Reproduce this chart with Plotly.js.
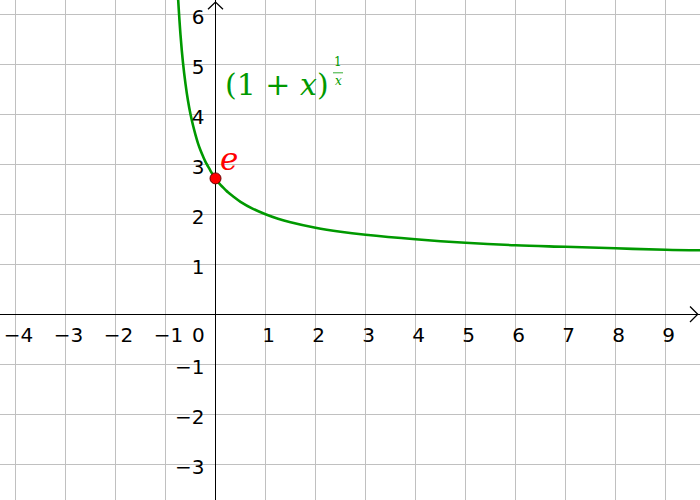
<!DOCTYPE html>
<html>
<head>
<meta charset="utf-8">
<script src="https://cdn.plot.ly/plotly-3.0.1.min.js"></script>
<style>
  html, body { margin: 0; padding: 0; background: #fff; }
  #chart { width: 700px; height: 500px; }
</style>
</head>
<body>
<div id="chart"></div>
<script>
// curve points: y = (1 + x)^(1/x)
const curveX = [-0.85, -0.8, -0.77, -0.75, -0.7, -0.65, -0.6, -0.55, -0.5, -0.45, -0.4, -0.35, -0.3,
                -0.25, -0.2, -0.15, -0.1, -0.05, 0, 0.05, 0.1, 0.2, 0.25, 0.35, 0.5, 0.75, 1,
                1.25, 1.5, 2, 2.5, 3, 4, 5, 6, 7, 8, 9, 9.7];
const curveY = [9.32, 7.48, 6.74, 6.35, 5.59, 5.03, 4.61, 4.27, 4.0, 3.78, 3.59, 3.42, 3.28,
                3.16, 3.05, 2.96, 2.87, 2.79, 2.718, 2.65, 2.59, 2.49, 2.44, 2.36, 2.25, 2.11, 2.0,
                1.91, 1.84, 1.73, 1.65, 1.59, 1.50, 1.43, 1.38, 1.35, 1.32, 1.29, 1.28];

// the marked point e
const pointX = [0];
const pointY = [2.718];

// tick labels
const xTicks = [-4, -3, -2, -1, 1, 2, 3, 4, 5, 6, 7, 8, 9];
const yTicks = [-3, -2, -1, 1, 2, 3, 4, 5, 6];

const xRange = [-4.31, 9.69];
const yRange = [-3.714, 6.286];

const green = '#009900';
const red = '#ff0000';

const curve = {
  x: curveX, y: curveY,
  type: 'scatter', mode: 'lines',
  line: {color: green, width: 2.6, shape: 'spline', smoothing: 1},
  hoverinfo: 'skip'
};

const ePoint = {
  x: pointX, y: pointY,
  type: 'scatter', mode: 'markers',
  marker: {color: red, size: 11, line: {color: '#660000', width: 1}},
  hoverinfo: 'skip'
};

function tickFont() {
  return {family: 'DejaVu Sans, sans-serif', size: 20, color: '#000'};
}

const layout = {
  width: 700, height: 500,
  margin: {l: 0, r: 0, t: 0, b: 0},
  paper_bgcolor: '#fff', plot_bgcolor: '#fff',
  showlegend: false,
  xaxis: {
    range: xRange, tickvals: xTicks,
    showgrid: true, gridcolor: '#c0c0c0', gridwidth: 1,
    zeroline: true, zerolinecolor: '#000', zerolinewidth: 1.5,
    showline: false, ticks: '',
    anchor: 'free', position: (0 - yRange[0]) / (yRange[1] - yRange[0]),
    tickfont: tickFont(), ticklabelshift: 3, ticklabelstandoff: 7,
    ticklabeloverflow: 'allow',
    fixedrange: true
  },
  yaxis: {
    range: yRange, tickvals: yTicks,
    showgrid: true, gridcolor: '#c0c0c0', gridwidth: 1,
    zeroline: true, zerolinecolor: '#000', zerolinewidth: 1.5,
    showline: false, ticks: '',
    anchor: 'free', position: (0 - xRange[0]) / (xRange[1] - xRange[0]),
    tickfont: tickFont(), ticklabelshift: 3, ticklabelstandoff: 11,
    ticklabeloverflow: 'allow',
    fixedrange: true
  },
  shapes: [
    // arrow heads on the axes
    {type: 'path', xref: 'x', yref: 'y', path: 'M 9.49 0.155 L 9.645 0 L 9.49 -0.155',
     line: {color: '#000', width: 1.3}},
    {type: 'path', xref: 'x', yref: 'y', path: 'M -0.15 6.1 L 0 6.245 L 0.15 6.1',
     line: {color: '#000', width: 1.3}},
    // fraction bar of the exponent
    {type: 'line', xref: 'x', yref: 'y', x0: 2.35, x1: 2.55, y0: 4.83, y1: 4.83,
     line: {color: green, width: 0.8}}
  ],
  annotations: [
    {x: 0, y: 0, xref: 'x', yref: 'y', text: '0', showarrow: false,
     xanchor: 'center', yanchor: 'middle', xshift: -17, yshift: -21, font: tickFont()},
    {x: 0, y: pointY[0], xref: 'x', yref: 'y', text: '<i>e</i>', showarrow: false,
     xanchor: 'left', yanchor: 'middle', xshift: 2, yshift: 19,
     font: {family: 'DejaVu Serif, serif', size: 31, color: red}},
    {x: 0.15, y: 4.6, xref: 'x', yref: 'y', text: '(1 + <i>x</i>)', showarrow: false,
     xanchor: 'left', yanchor: 'middle',
     font: {family: 'DejaVu Serif, serif', size: 30, color: green}},
    {x: 2.45, y: 5.05, xref: 'x', yref: 'y', text: '1', showarrow: false,
     xanchor: 'center', yanchor: 'middle',
     font: {family: 'DejaVu Serif, serif', size: 12, color: green}},
    {x: 2.45, y: 4.66, xref: 'x', yref: 'y', text: '<i>x</i>', showarrow: false,
     xanchor: 'center', yanchor: 'middle',
     font: {family: 'DejaVu Serif, serif', size: 12, color: green}}
  ]
};

Plotly.newPlot('chart', [curve, ePoint], layout, {displayModeBar: false, staticPlot: true});
</script>
</body>
</html>
